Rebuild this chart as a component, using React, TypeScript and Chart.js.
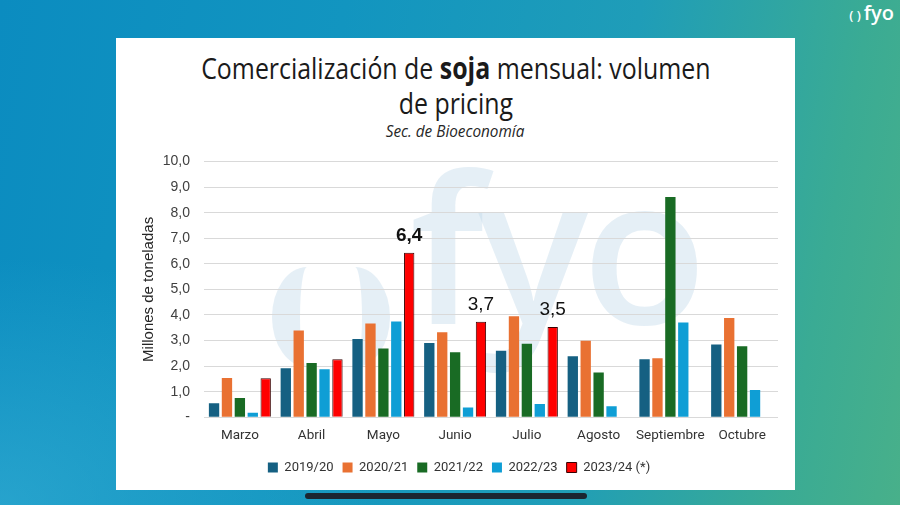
import React, { useEffect, useRef } from "react";
import { Chart, registerables } from "chart.js";

Chart.register(...registerables);

const categories = ["Marzo", "Abril", "Mayo", "Junio", "Julio", "Agosto", "Septiembre", "Octubre"];
const seriesLabels = ["2019/20", "2020/21", "2021/22", "2022/23", "2023/24 (*)"];
const s201920 = [0.55, 1.92, 3.06, 2.9, 2.6, 2.39, 2.27, 2.85];
const s202021 = [1.54, 3.39, 3.67, 3.32, 3.95, 2.99, 2.31, 3.88];
const s202122 = [0.75, 2.12, 2.69, 2.54, 2.88, 1.75, 8.61, 2.78];
const s202223 = [0.18, 1.88, 3.75, 0.38, 0.52, 0.43, 3.71, 1.07];
const s202324 = [1.53, 2.27, 6.43, 3.74, 3.53, null, null, null];
const seriesColors = ["#156082", "#E97132", "#196B24", "#0F9ED5", "#FF0000"];
const yTickValues = [0, 1, 2, 3, 4, 5, 6, 7, 8, 9, 10];
const labeledMonths = ["Mayo", "Junio", "Julio"];
const boldMonths = ["Mayo"];

const SANS = "'Open Sans', 'Roboto', sans-serif";
const LABEL = "'Roboto', 'Open Sans', sans-serif";
const ARIAL = "'Liberation Sans', Arial, sans-serif";

const fmt = (v: number) => (v === 0 ? "-" : v.toFixed(1).replace(".", ","));

const valueLabelPlugin = {
  id: "valueLabels",
  afterDatasetsDraw(chart: any) {
    const meta = chart.getDatasetMeta(4);
    const ctx = chart.ctx;
    ctx.save();
    ctx.fillStyle = "#111111";
    ctx.textAlign = "center";
    ctx.textBaseline = "alphabetic";
    categories.forEach((cat, i) => {
      const v = s202324[i];
      if (v == null || !labeledMonths.includes(cat)) return;
      const el = meta.data[i];
      ctx.font = `${boldMonths.includes(cat) ? "bold " : ""}19px ${ARIAL}`;
      ctx.fillText(fmt(v), el.x, el.y - 12);
    });
    ctx.restore();
  },
};

const legendShiftPlugin = {
  id: "legendShift",
  afterLayout(chart: any) {
    const lg = chart.legend;
    if (lg) {
      lg.top -= 2.5;
      lg.bottom -= 2.5;
    }
  },
};

function TitleLine(props: { top: number; size: number; lh: number; scale: number; italic?: boolean; color: string; children: any }) {
  return (
    <div
      style={{
        position: "absolute",
        left: 0,
        width: 679,
        top: props.top,
        lineHeight: `${props.lh}px`,
        textAlign: "center",
        whiteSpace: "nowrap",
      }}
    >
      <span
        style={{
          display: "inline-block",
          fontFamily: SANS,
          fontSize: props.size,
          fontStyle: props.italic ? "italic" : "normal",
          color: props.color,
          transform: `scaleX(${props.scale})`,
          transformOrigin: "50% 50%",
        }}
      >
        {props.children}
      </span>
    </div>
  );
}

export default function App() {
  const canvasRef = useRef<HTMLCanvasElement | null>(null);

  useEffect(() => {
    if (!canvasRef.current) return;
    const series = [s201920, s202021, s202122, s202223, s202324];
    const chart = new Chart(canvasRef.current, {
      type: "bar",
      data: {
        labels: categories,
        datasets: series.map((d, i) => ({
          label: seriesLabels[i],
          data: d,
          backgroundColor: seriesColors[i],
          borderColor: i === 4 ? "#3a0000" : seriesColors[i],
          borderWidth: i === 4 ? 1 : 0,
          categoryPercentage: 0.9,
          barPercentage: 0.8,
        })),
      },
      options: {
        responsive: false,
        animation: false,
        layout: { padding: { left: 24, right: 17, top: 123.5, bottom: 21.5 } },
        plugins: {
          title: { display: false },
          tooltip: { enabled: false },
          legend: {
            position: "bottom",
            labels: {
              boxWidth: 10,
              boxHeight: 10,
              padding: 9,
              color: "#333333",
              font: { family: LABEL, size: 13 },
            },
          },
        },
        scales: {
          x: {
            grid: { display: false, drawTicks: false },
            border: { display: false },
            ticks: {
              color: "#333333",
              padding: 10.5,
              maxRotation: 0,
              minRotation: 0,
              autoSkip: false,
              font: { family: LABEL, size: 13.5 },
            },
          },
          y: {
            min: 0,
            max: 10,
            afterFit: (scale: any) => {
              scale.width = 64;
            },
            afterBuildTicks: (scale: any) => {
              scale.ticks = yTickValues.map((v) => ({ value: v }));
            },
            grid: { color: "#d9d9d9", drawTicks: false, lineWidth: 1 },
            border: { display: false },
            ticks: {
              color: "#404040",
              padding: 14,
              font: { family: ARIAL, size: 14 },
              callback: (v: any) => fmt(Number(v)),
            },
            title: {
              display: true,
              text: "Millones de toneladas",
              color: "#262626",
              padding: { top: 0, bottom: 0 },
              font: { family: ARIAL, size: 15 },
            },
          },
        },
      },
      plugins: [valueLabelPlugin, legendShiftPlugin],
    });
    return () => chart.destroy();
  }, []);

  const wm = "rgba(186, 214, 232, 0.38)";

  return (
    <div
      style={{
        position: "fixed",
        left: 0,
        top: 0,
        width: 900,
        height: 505,
        overflow: "hidden",
        background:
          "radial-gradient(ellipse 60% 70% at 0% 100%, rgba(60,180,215,0.55), rgba(60,180,215,0) 70%), linear-gradient(100deg, #0b8cc0 0%, #1295c0 35%, #1f9db8 65%, #3aab94 88%, #48b08a 100%)",
      }}
    >
      <div
        style={{
          position: "absolute",
          right: 6,
          top: 0,
          color: "#ffffff",
          fontFamily: "'Open Sans', sans-serif",
          fontWeight: 600,
          fontSize: 20,
          lineHeight: "26px",
        }}
      >
        <span style={{ fontSize: 13, marginRight: 3 }}>( )</span>fyo
      </div>
      <div
        style={{
          position: "absolute",
          left: 116,
          top: 38,
          width: 679,
          height: 452,
          background: "#ffffff",
          overflow: "hidden",
        }}
      >
        <div
          style={{
            position: "absolute",
            left: 272 - 116,
            top: 267 - 38,
            width: 70,
            height: 100,
            boxSizing: "border-box",
            borderLeft: `28px solid ${wm}`,
            borderRadius: "50%",
          }}
        />
        <div
          style={{
            position: "absolute",
            left: 320 - 116,
            top: 267 - 38,
            width: 70,
            height: 100,
            boxSizing: "border-box",
            borderRight: `28px solid ${wm}`,
            borderRadius: "50%",
          }}
        />
        <div
          style={{
            position: "absolute",
            left: 410 - 116,
            top: 115 - 38,
            fontFamily: "'Open Sans', sans-serif",
            fontWeight: 600,
            fontSize: 205,
            lineHeight: "260px",
            letterSpacing: -6,
            color: wm,
          }}
        >
          fyo
        </div>
        <TitleLine top={13} size={30} lh={34} scale={0.83} color="#1a1a1a">
          Comercialización de <b>soja</b> mensual: volumen
        </TitleLine>
        <TitleLine top={48} size={30} lh={34} scale={0.83} color="#1a1a1a">
          de pricing
        </TitleLine>
        <TitleLine top={82} size={17} lh={22} scale={0.9} italic color="#262626">
          Sec. de Bioeconomía
        </TitleLine>
      </div>
      <canvas
        ref={canvasRef}
        width={679}
        height={470}
        style={{ position: "absolute", left: 116, top: 38, width: 679, height: 470 }}
      />
      <div
        style={{
          position: "absolute",
          left: 305,
          top: 493,
          width: 282,
          height: 6,
          borderRadius: 3,
          background: "#1b2631",
        }}
      />
    </div>
  );
}
